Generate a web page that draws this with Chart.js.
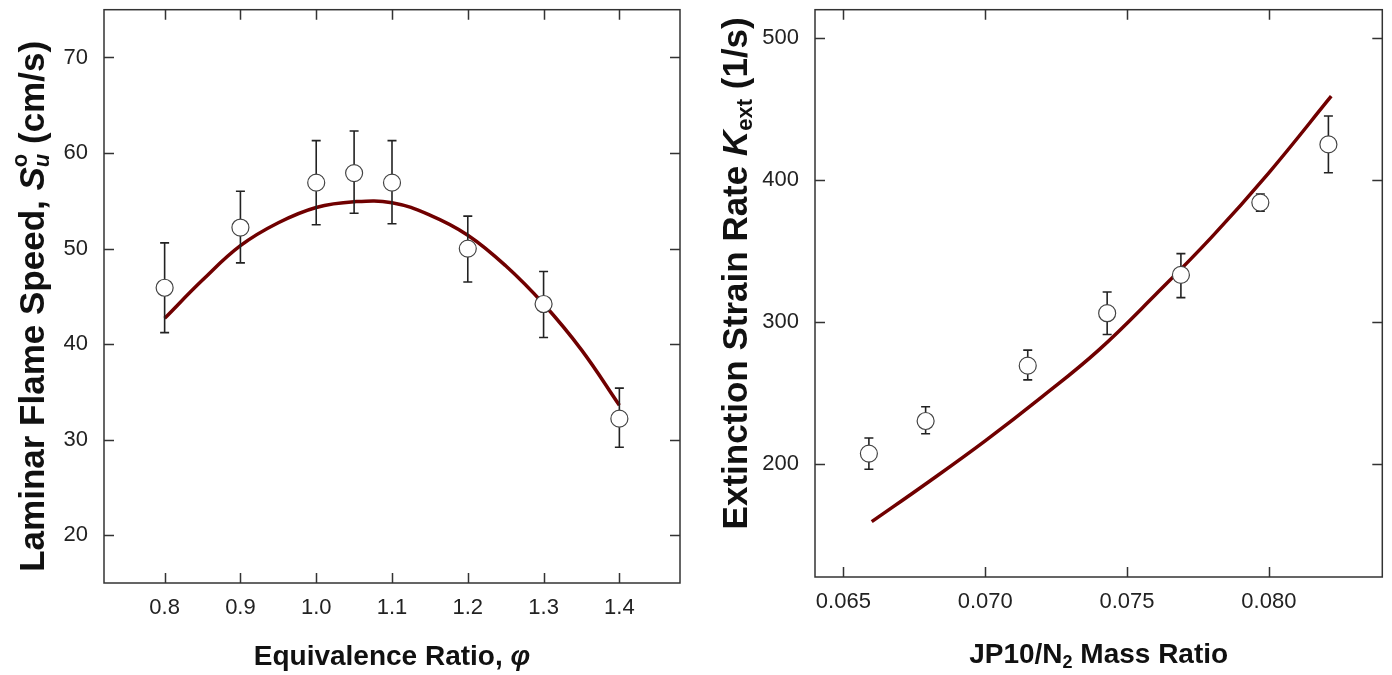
<!DOCTYPE html>
<html>
<head>
<meta charset="utf-8">
<script src="https://cdn.jsdelivr.net/npm/chart.js@4.4.0/dist/chart.umd.min.js"></script>
<style>
  body { margin: 0; background: #fff; }
  #wrap { position: relative; width: 1392px; height: 675px; }
  #leftChart { position: absolute; left: 0; top: 0; }
  #rightChart { position: absolute; left: 696px; top: 0; }
</style>
</head>
<body>
<div id="wrap">
  <canvas id="leftChart" width="696" height="675"></canvas>
  <canvas id="rightChart" width="696" height="675"></canvas>
</div>
<script>
// left panel: flame speed vs equivalence ratio
var phi = [0.8, 0.9, 1.0, 1.05, 1.1, 1.2, 1.3, 1.4];
var flameSpeed = [45.9, 52.2, 56.9, 57.9, 56.9, 50.0, 44.2, 32.2];
var flameSpeedHigh = [50.6, 56.0, 61.3, 62.3, 61.3, 53.4, 47.6, 35.4];
var flameSpeedLow = [41.2, 48.5, 52.5, 53.7, 52.6, 46.5, 40.7, 29.2];
var fitPhi = [0.8, 0.85, 0.9, 0.95, 1.0, 1.05, 1.1, 1.15, 1.2, 1.25, 1.3, 1.35, 1.4];
var fitSpeed = [42.7, 46.7, 50.3, 52.7, 54.3, 54.9, 54.8, 53.5, 51.4, 48.2, 44.2, 39.4, 33.6];
var phiTicks = [0.8, 0.9, 1.0, 1.1, 1.2, 1.3, 1.4];
var speedTicks = [20, 30, 40, 50, 60, 70];

// right panel: extinction strain rate vs mass ratio
var massRatio = [0.0659, 0.0679, 0.0715, 0.0743, 0.0769, 0.0797, 0.0821];
var strainRate = [207, 230, 269, 306, 333, 384, 425];
var strainHigh = [218, 240, 280, 321, 348, 390, 445];
var strainLow = [196, 221, 259, 291, 317, 378, 405];
var fitRatio = [0.066, 0.068, 0.070, 0.072, 0.074, 0.076, 0.078, 0.080, 0.0822];
var fitStrain = [159, 187, 216, 247, 280, 319, 360, 405, 459];
var ratioTicks = [0.065, 0.070, 0.075, 0.080];
var strainTicks = [200, 300, 400, 500];

var FONT = '"Liberation Sans", Arial, sans-serif';

function toPoints(xs, ys) {
    return xs.map(function(x, i) { return { x: x, y: ys[i] }; });
}

// draws a line of text made of pieces (sub/superscripts), centred on cx,cy
function drawRich(ctx, parts, cx, cy, angle) {
    ctx.save();
    ctx.translate(cx, cy);
    ctx.rotate(angle);
    ctx.textBaseline = 'middle';
    ctx.textAlign = 'left';
    ctx.fillStyle = '#111';
    var total = 0;
    parts.forEach(function(p) {
        ctx.font = p.font;
        p.w = ctx.measureText(p.text).width;
        if (p.adv !== false) total += p.w;
    });
    var x = -total / 2;
    parts.forEach(function(p) {
        ctx.font = p.font;
        ctx.fillText(p.text, x, p.dy || 0);
        if (p.adv !== false) x += p.w;
    });
    ctx.restore();
}

var framePlugin = {
    id: 'frame',
    beforeDatasetDraw: function(chart, args, opts) {
        if (args.index !== 0) return;
        var ctx = chart.ctx, xs = chart.scales.x, ys = chart.scales.y;
        ctx.save();
        ctx.strokeStyle = '#222';
        ctx.lineWidth = 1.6;
        ctx.beginPath();
        opts.xv.forEach(function(v, i) {
            var px = xs.getPixelForValue(v);
            var top = ys.getPixelForValue(opts.hi[i]);
            var bot = ys.getPixelForValue(opts.lo[i]);
            ctx.moveTo(px, top); ctx.lineTo(px, bot);
            ctx.moveTo(px - 4.5, top); ctx.lineTo(px + 4.5, top);
            ctx.moveTo(px - 4.5, bot); ctx.lineTo(px + 4.5, bot);
        });
        ctx.stroke();
        ctx.restore();
    },
    afterDraw: function(chart, args, opts) {
        var ctx = chart.ctx, a = chart.chartArea, xs = chart.scales.x, ys = chart.scales.y;
        ctx.save();
        ctx.strokeStyle = '#333';
        ctx.lineWidth = 1.5;
        ctx.strokeRect(a.left, a.top, a.right - a.left, a.bottom - a.top);
        ctx.beginPath();
        xs.ticks.forEach(function(t) {
            var px = Math.round(xs.getPixelForValue(t.value)) + 0.5;
            ctx.moveTo(px, a.bottom); ctx.lineTo(px, a.bottom - 10);
            ctx.moveTo(px, a.top); ctx.lineTo(px, a.top + 10);
        });
        ys.ticks.forEach(function(t) {
            var py = Math.round(ys.getPixelForValue(t.value)) + 0.5;
            ctx.moveTo(a.left, py); ctx.lineTo(a.left + 10, py);
            ctx.moveTo(a.right, py); ctx.lineTo(a.right - 10, py);
        });
        ctx.stroke();
        ctx.restore();
        drawRich(ctx, opts.xTitle, (a.left + a.right) / 2, opts.xTitleY, 0);
        drawRich(ctx, opts.yTitle, opts.yTitleX, (a.top + a.bottom) / 2 + opts.yTitleShift, -Math.PI / 2);
    }
};

function axes(xMin, xMax, xTicks, xDigits, yMin, yMax, yTicks, yWidth, xHeight) {
    var tickFont = { family: FONT, size: 22 };
    return {
        x: {
            type: 'linear', min: xMin, max: xMax,
            afterBuildTicks: function(s) { s.ticks = xTicks.map(function(v) { return { value: v }; }); },
            afterFit: function(s) { s.height = xHeight; s.paddingLeft = 0; s.paddingRight = 0; },
            grid: { display: false, drawTicks: false },
            border: { display: false },
            ticks: { font: tickFont, color: '#222', padding: 12, maxRotation: 0,
                callback: function(v) { return Number(v).toFixed(xDigits); } }
        },
        y: {
            type: 'linear', min: yMin, max: yMax,
            afterBuildTicks: function(s) { s.ticks = yTicks.map(function(v) { return { value: v }; }); },
            afterFit: function(s) { s.width = yWidth; s.paddingTop = 0; s.paddingBottom = 0; },
            grid: { display: false, drawTicks: false },
            border: { display: false },
            ticks: { font: tickFont, color: '#222', padding: 16 }
        }
    };
}

var bold = 'bold 28px ' + FONT;
var boldItalic = 'italic bold 28px ' + FONT;
var small = 'bold 18px ' + FONT;
var bigBold = 'bold 35px ' + FONT;
var bigBoldItalic = 'italic bold 35px ' + FONT;
var bigSmall = 'bold 22px ' + FONT;
var bigSmallItalic = 'italic bold 22px ' + FONT;

new Chart(document.getElementById('leftChart'), {
    type: 'scatter',
    data: {
        datasets: [{
            data: toPoints(phi, flameSpeed),
            pointRadius: 8.5,
            pointBackgroundColor: '#fff',
            pointBorderColor: '#444',
            pointBorderWidth: 1.2
        }, {
            type: 'line',
            data: toPoints(fitPhi, fitSpeed),
            borderColor: '#700000',
            borderWidth: 3.5,
            pointRadius: 0,
            tension: 0.4,
            fill: false
        }]
    },
    options: {
        responsive: false,
        animation: false,
        layout: { padding: { top: 8, right: 16, left: 0, bottom: 0 } },
        plugins: {
            legend: { display: false },
            tooltip: { enabled: false },
            frame: {
                xv: phi, hi: flameSpeedHigh, lo: flameSpeedLow,
                xTitleY: 657, yTitleX: 34, yTitleShift: 10,
                xTitle: [{ text: 'Equivalence Ratio, ', font: bold }, { text: 'φ', font: boldItalic }],
                yTitle: [{ text: 'Laminar Flame Speed, ', font: bigBold }, { text: 'S', font: bigBoldItalic },
                    { text: 'o', font: bigSmall, dy: -13, adv: false }, { text: 'u', font: bigSmallItalic, dy: 9 },
                    { text: ' (cm/s)', font: bigBold }]
            }
        },
        scales: axes(0.72, 1.48, phiTicks, 1, 15, 75, speedTicks, 104, 92)
    },
    plugins: [framePlugin]
});

new Chart(document.getElementById('rightChart'), {
    type: 'scatter',
    data: {
        datasets: [{
            data: toPoints(massRatio, strainRate),
            pointRadius: 8.5,
            pointBackgroundColor: '#fff',
            pointBorderColor: '#444',
            pointBorderWidth: 1.2
        }, {
            type: 'line',
            data: toPoints(fitRatio, fitStrain),
            borderColor: '#700000',
            borderWidth: 3.5,
            pointRadius: 0,
            tension: 0.4,
            fill: false
        }]
    },
    options: {
        responsive: false,
        animation: false,
        layout: { padding: { top: 8, right: 9, left: 0, bottom: 0 } },
        plugins: {
            legend: { display: false },
            tooltip: { enabled: false },
            frame: {
                xv: massRatio, hi: strainHigh, lo: strainLow,
                xTitleY: 655, yTitleX: 41, yTitleShift: -20,
                xTitle: [{ text: 'JP10/N', font: bold }, { text: '2', font: small, dy: 8 },
                    { text: ' Mass Ratio', font: bold }],
                yTitle: [{ text: 'Extinction Strain Rate ', font: bigBold }, { text: 'K', font: bigBoldItalic },
                    { text: 'ext', font: bigSmall, dy: 9 }, { text: ' (1/s)', font: bigBold }]
            }
        },
        scales: axes(0.064, 0.084, ratioTicks, 3, 120, 520, strainTicks, 119, 98)
    },
    plugins: [framePlugin]
});
</script>
</body>
</html>
